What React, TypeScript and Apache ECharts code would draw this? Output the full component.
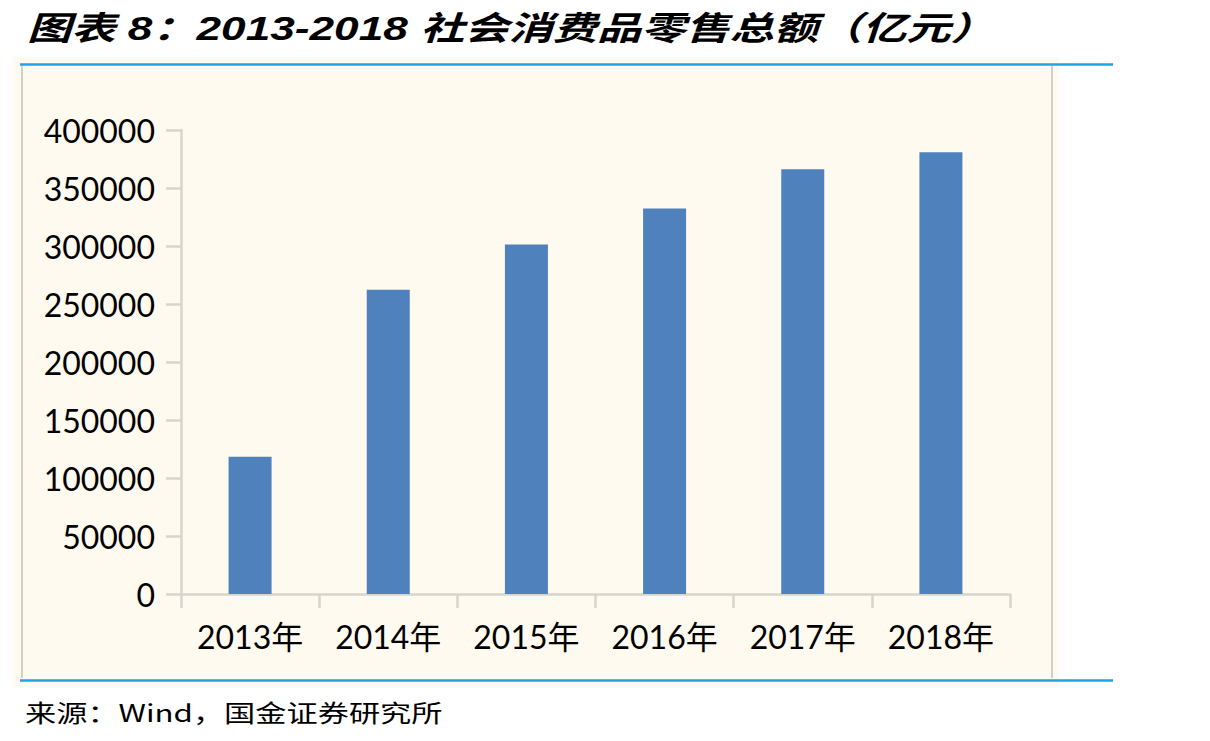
import React, { useEffect, useRef } from "react";
import * as echarts from "echarts";

const titleText = "图表 8：2013-2018 社会消费品零售总额（亿元）";
const sourceText = "来源：Wind，国金证券研究所";
const categories = ["2013年", "2014年", "2015年", "2016年", "2017年", "2018年"];
const retailSales = [118300, 262300, 301300, 332400, 366200, 380800];
const yMin = 0;
const yMax = 400000;
const yInterval = 50000;

export default function App() {
  const ref = useRef<HTMLDivElement>(null);
  useEffect(() => {
    document.body.style.margin = "0";
    const chart = echarts.init(ref.current!, undefined, { renderer: "svg" });
    const axisColor = "#d8d5cd";
    const labelFont = "Lato, 'Noto Sans CJK SC', sans-serif";
    chart.setOption({
      animation: false,
      backgroundColor: "#ffffff",
      graphic: [
        {
          type: "rect",
          z: -10,
          shape: { x: 13, y: 57, width: 1046, height: 630 },
          style: { fill: "#fefaef" },
          silent: true,
        },
        {
          type: "line",
          z: -5,
          shape: { x1: 22, y1: 66, x2: 22, y2: 678 },
          style: { stroke: "#d2cfc8", lineWidth: 2 },
        },
        {
          type: "line",
          z: -5,
          shape: { x1: 1052, y1: 66, x2: 1052, y2: 678 },
          style: { stroke: "#d2cfc8", lineWidth: 2 },
        },
        {
          type: "line",
          shape: { x1: 20, y1: 64.5, x2: 1113, y2: 64.5 },
          style: { stroke: "#1ea5e6", lineWidth: 2.5 },
        },
        {
          type: "line",
          shape: { x1: 20, y1: 680.5, x2: 1113, y2: 680.5 },
          style: { stroke: "#1ea5e6", lineWidth: 2.5 },
        },
        {
          type: "text",
          x: 27,
          y: 29,
          scaleX: 1.34,
          style: {
            text: titleText,
            fill: "#000",
            font: "italic bold 33px 'Liberation Sans', 'Noto Sans CJK SC', sans-serif",
            textVerticalAlign: "middle",
            verticalAlign: "middle",
          },
        },
        {
          type: "text",
          x: 25,
          y: 712,
          scaleX: 1.3,
          style: {
            text: sourceText,
            fill: "#000",
            font: "24px 'Noto Sans CJK SC', sans-serif",
            textVerticalAlign: "middle",
            verticalAlign: "middle",
          },
        },
      ],
      grid: { left: 181, right: 200, top: 130, bottom: 147, containLabel: false },
      xAxis: {
        type: "category",
        data: categories,
        axisLine: { show: true, lineStyle: { color: axisColor, width: 2.5 } },
        axisTick: { show: true, length: 14, lineStyle: { color: axisColor, width: 2.5 } },
        axisLabel: { color: "#000", fontSize: 32, fontFamily: labelFont, margin: 26 },
        splitLine: { show: false },
      },
      yAxis: {
        type: "value",
        min: yMin,
        max: yMax,
        interval: yInterval,
        axisLine: { show: true, lineStyle: { color: axisColor, width: 2.5 } },
        axisTick: { show: true, length: 15, lineStyle: { color: axisColor, width: 2.5 } },
        axisLabel: {
          color: "#000",
          fontSize: 32,
          fontFamily: labelFont,
          margin: 26,
          formatter: (v: number) => String(v),
        },
        splitLine: { show: false },
      },
      series: [
        {
          type: "bar",
          data: retailSales,
          barWidth: 43,
          itemStyle: { color: "#4f81bd" },
        },
      ],
    });
    return () => chart.dispose();
  }, []);
  return (
    <div
      ref={ref}
      style={{ position: "fixed", left: 0, top: 0, width: 1210, height: 741 }}
    />
  );
}
